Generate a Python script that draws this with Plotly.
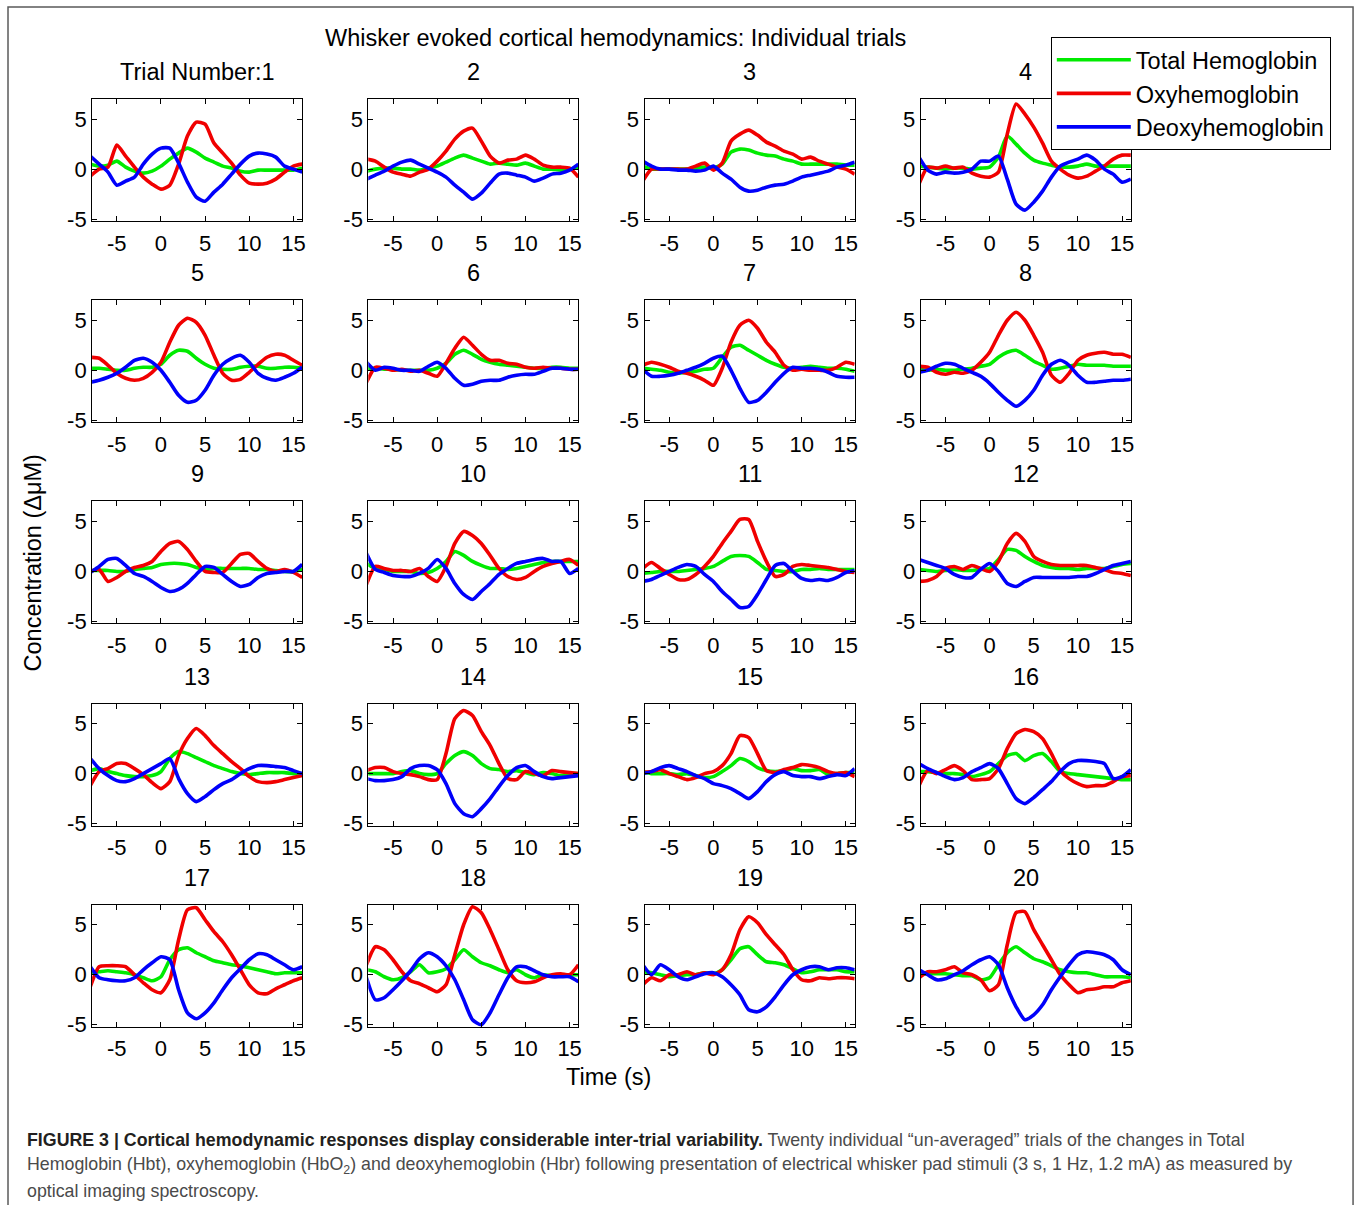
import plotly.graph_objects as go

# ---------------- data ----------------
TIME_S = list(range(-8, 17))  # seconds relative to stimulus onset
TRIAL_TITLES = ["Trial Number:1"] + [str(i) for i in range(2, 21)]
X_TICKS = [-5, 0, 5, 10, 15]
X_TICK_TEXT = ["-5", "0", "5", "10", "15"]
Y_TICKS = [-5, 0, 5]
Y_TICK_TEXT = ["-5", "0", "5"]

# Total hemoglobin (Hbt), one list per trial
HBT = [
    [0.5, 0.3, 0.4, 0.8, 0.2, -0.2, -0.4, -0.2, 0.3, 1.0, 1.6, 2.1, 1.7, 1.1, 0.7, 0.3, 0.1, -0.2, -0.3, -0.1, -0.1, -0.1, -0.1, -0.1, 0.1],
    [-0.2, 0.0, 0.1, 0.1, 0.0, 0.0, -0.1, 0.1, 0.3, 0.7, 1.1, 1.4, 1.1, 0.8, 0.5, 0.6, 0.5, 0.4, 0.6, 0.3, 0.0, 0.0, -0.1, 0.0, 0.2],
    [0.3, 0.0, 0.0, 0.0, 0.0, 0.0, 0.1, 0.2, 0.1, 0.5, 1.7, 2.0, 1.9, 1.6, 1.4, 1.3, 1.0, 0.8, 0.5, 0.5, 0.5, 0.5, 0.5, 0.4, 0.4],
    [0.3, 0.2, 0.1, 0.0, 0.1, 0.1, 0.0, 0.1, 0.2, 1.2, 3.3, 2.5, 1.6, 0.9, 0.6, 0.4, 0.2, 0.2, 0.3, 0.5, 0.3, 0.3, 0.3, 0.3, 0.3],
    [0.2, 0.2, 0.1, 0.0, 0.0, 0.2, 0.3, 0.3, 0.6, 1.5, 2.0, 1.9, 1.2, 0.6, 0.2, 0.1, 0.1, 0.3, 0.4, 0.4, 0.2, 0.2, 0.3, 0.3, 0.2],
    [0.2, 0.2, 0.1, 0.1, 0.0, 0.0, 0.0, 0.0, 0.2, 0.7, 1.6, 2.0, 1.6, 1.1, 0.8, 0.6, 0.5, 0.4, 0.3, 0.2, 0.2, 0.3, 0.3, 0.2, 0.2],
    [0.2, 0.1, 0.0, -0.2, -0.3, -0.2, -0.1, 0.1, 0.2, 1.3, 2.3, 2.5, 2.0, 1.5, 1.0, 0.6, 0.3, 0.2, 0.3, 0.4, 0.3, 0.2, 0.2, 0.1, -0.1],
    [0.1, 0.0, 0.1, 0.0, 0.0, 0.1, 0.2, 0.4, 0.6, 1.3, 1.8, 2.0, 1.5, 0.9, 0.5, 0.1, 0.2, 0.4, 0.6, 0.5, 0.5, 0.5, 0.4, 0.4, 0.4],
    [0.1, 0.1, 0.1, 0.0, 0.0, 0.2, 0.3, 0.4, 0.7, 0.8, 0.8, 0.7, 0.4, 0.2, 0.3, 0.3, 0.3, 0.3, 0.3, 0.2, 0.2, 0.1, 0.0, 0.0, 0.2],
    [0.8, 0.3, 0.2, 0.0, 0.0, 0.0, -0.2, -0.1, 0.3, 1.0, 2.0, 1.6, 1.0, 0.6, 0.3, 0.3, 0.2, 0.3, 0.5, 0.7, 0.9, 1.0, 1.0, 1.0, 1.0],
    [-0.2, -0.1, 0.0, 0.0, 0.0, 0.1, 0.2, 0.3, 0.5, 1.0, 1.5, 1.6, 1.5, 0.9, 0.2, 0.1, 0.0, 0.0, 0.2, 0.2, 0.3, 0.2, 0.2, 0.2, 0.2],
    [0.2, 0.1, 0.0, 0.1, 0.2, 0.1, 0.1, 0.2, 0.3, 1.2, 2.2, 2.1, 1.5, 1.0, 0.6, 0.4, 0.3, 0.3, 0.2, 0.3, 0.3, 0.3, 0.5, 0.7, 0.8],
    [0.3, 0.5, 0.2, 0.0, -0.2, -0.3, -0.3, -0.2, 0.2, 1.5, 2.2, 2.0, 1.6, 1.2, 0.8, 0.5, 0.2, 0.0, -0.1, 0.0, 0.1, 0.1, 0.1, 0.0, 0.0],
    [0.0, 0.0, 0.0, 0.0, 0.2, 0.3, 0.0, -0.1, 0.0, 1.0, 1.8, 2.2, 1.8, 1.0, 0.5, 0.4, 0.2, 0.3, 0.1, -0.1, 0.1, 0.0, -0.2, 0.0, 0.0],
    [0.2, 0.0, 0.0, 0.0, -0.1, 0.0, -0.2, -0.4, -0.3, 0.2, 0.8, 1.5, 1.2, 0.6, 0.3, 0.2, 0.3, 0.5, 0.3, 0.3, 0.4, -0.1, 0.0, 0.1, 0.1],
    [0.2, 0.2, 0.1, 0.0, 0.0, -0.1, -0.3, -0.1, 0.2, 1.0, 1.8, 2.0, 1.3, 1.8, 2.0, 1.2, 0.2, 0.0, -0.1, -0.2, -0.3, -0.4, -0.5, -0.6, -0.6],
    [0.2, 0.3, 0.4, 0.3, 0.2, 0.0, -0.3, -0.6, -0.2, 1.5, 2.5, 2.7, 2.2, 1.8, 1.4, 1.2, 1.0, 0.9, 0.7, 0.5, 0.3, 0.1, 0.2, 0.2, 0.2],
    [0.5, 0.3, -0.2, -0.5, -0.3, 0.3, 1.0, 0.2, 0.3, 0.6, 1.5, 2.5, 1.8, 1.2, 0.9, 0.5, 0.2, 0.5, 0.0, -0.3, 0.0, -0.1, 0.0, 0.0, 0.0],
    [0.3, 0.2, 0.0, -0.2, -0.1, 0.0, 0.0, 0.2, 0.1, 0.5, 1.5, 2.6, 2.8, 2.0, 1.3, 1.2, 1.0, 0.6, 0.2, 0.3, 0.5, 0.5, 0.5, 0.3, 0.3],
    [0.0, 0.1, 0.1, 0.1, 0.0, -0.1, -0.1, -0.5, -0.3, 1.0, 2.2, 2.8, 2.2, 1.6, 1.3, 0.9, 0.5, 0.3, 0.2, 0.2, 0.0, -0.2, -0.2, -0.2, -0.3],
]

# Oxyhemoglobin (HbO2), one list per trial
HBO = [
    [-0.7, 0.0, 0.2, 2.4, 1.3, 0.2, -0.8, -1.5, -2.0, -1.6, 0.5, 3.3, 4.7, 4.5, 2.6, 1.6, 0.6, -0.6, -1.4, -1.5, -1.4, -1.0, -0.3, 0.3, 0.5],
    [1.0, 0.8, 0.2, -0.3, -0.5, -0.7, -0.3, 0.0, 0.8, 1.8, 3.0, 3.8, 4.1, 2.8, 1.3, 0.6, 0.9, 1.0, 1.4, 1.0, 0.4, 0.2, 0.2, 0.1, -0.8],
    [-1.2, 0.0, 0.0, 0.0, 0.0, 0.0, 0.3, 0.6, -0.1, 0.6, 2.8, 3.5, 3.9, 3.4, 2.7, 2.3, 1.8, 1.5, 1.0, 1.2, 0.8, 0.5, 0.2, 0.0, -0.5],
    [-1.5, 0.2, 0.1, 0.3, 0.1, 0.2, -0.4, -0.7, -0.8, -0.3, 3.5, 6.5, 5.5, 4.2, 2.6, 0.8, 0.0, -0.6, -0.9, -0.7, -0.2, 0.3, 1.0, 1.4, 1.4],
    [1.3, 1.2, 0.5, -0.3, -0.8, -1.0, -0.8, -0.2, 0.8, 2.8, 4.5, 5.2, 4.8, 3.5, 1.5, -0.3, -1.0, -0.9, -0.2, 0.6, 1.3, 1.6, 1.5, 1.0, 0.5],
    [-1.2, 0.3, 0.2, 0.0, 0.1, -0.1, 0.0, -0.3, -0.6, 0.7, 2.2, 3.3, 2.5, 1.6, 1.0, 1.0, 0.7, 0.6, 0.3, 0.2, 0.3, 0.2, 0.2, 0.1, 0.1],
    [0.5, 0.8, 0.6, 0.3, -0.1, -0.3, -0.6, -1.0, -1.5, 0.2, 2.8, 4.5, 5.0, 4.2, 2.8, 1.8, 0.5, 0.0, 0.1, 0.0, 0.0, 0.0, 0.3, 0.8, 0.6],
    [0.4, 0.3, -0.2, -0.4, -0.2, -0.3, 0.0, 0.8, 1.8, 3.5, 5.0, 5.8, 5.0, 3.5, 1.8, -0.5, -1.2, -0.3, 1.0, 1.5, 1.7, 1.8, 1.6, 1.6, 1.3],
    [0.0, 0.2, -1.0, -0.6, 0.0, 0.4, 0.6, 1.0, 2.0, 2.8, 3.0, 2.2, 1.0, 0.0, -0.1, -0.1, 0.8, 1.7, 1.8, 1.0, 0.3, 0.0, 0.2, -0.1, -0.6],
    [-1.3, 0.5, 0.3, 0.1, 0.1, 0.0, 0.3, -0.5, -1.0, 0.5, 2.8, 4.0, 3.6, 2.8, 1.6, 0.3, -0.5, -0.8, -0.6, 0.0, 0.5, 0.8, 1.0, 1.2, 0.6],
    [0.3, 0.9, 0.3, -0.3, -0.8, -0.8, -0.3, 0.5, 1.5, 2.8, 4.0, 5.2, 5.2, 3.0, 1.0, -0.5, -0.3, 0.5, 0.7, 0.6, 0.5, 0.4, 0.2, 0.0, -0.1],
    [-1.0, -0.9, -0.5, 0.3, 0.5, 0.2, 0.6, 0.3, 0.0, 1.0, 2.8, 3.8, 3.0, 1.5, 1.0, 0.7, 0.6, 0.6, 0.6, 0.6, 0.4, 0.2, -0.1, -0.2, -0.4],
    [-1.2, 0.2, 0.5, 1.0, 1.0, 0.5, -0.1, -0.9, -1.5, -0.8, 1.8, 3.5, 4.5, 3.8, 2.8, 2.0, 1.2, 0.5, -0.3, -0.8, -0.9, -0.8, -0.6, -0.4, -0.2],
    [0.3, 0.6, 0.6, 0.2, 0.0, -0.1, -0.3, -0.6, -0.6, 2.0, 5.5, 6.3, 5.8, 4.2, 2.8, 1.0, -0.5, -0.6, 0.2, 0.0, -0.2, 0.3, 0.2, 0.1, 0.0],
    [0.1, 0.2, 0.4, 0.0, -0.3, -0.6, -0.4, 0.0, 0.2, 0.8, 2.0, 3.8, 3.6, 2.0, 0.3, 0.1, 0.4, 0.6, 0.9, 0.8, 0.6, 0.2, 0.0, 0.1, -0.3],
    [-1.2, 0.3, 0.0, 0.4, 0.8, 0.3, -0.6, -0.6, -0.5, 0.5, 2.5, 4.0, 4.4, 4.2, 3.5, 2.0, 0.3, -0.5, -1.0, -1.3, -1.2, -1.2, -0.8, -0.3, -0.2],
    [-1.2, 0.8, 0.9, 0.9, 0.8, 0.0, -0.8, -1.5, -1.8, -0.5, 3.5, 6.5, 6.7, 5.5, 4.3, 3.3, 2.0, 0.5, -1.0, -1.8, -1.9, -1.4, -1.0, -0.6, -0.3],
    [1.0, 2.8, 2.5, 1.5, 0.3, -0.6, -0.9, -1.3, -1.7, -1.0, 2.0, 5.0, 6.8, 6.2, 4.5, 2.5, 0.5, -0.6, -0.8, -0.7, -0.3, 0.0, 0.1, 0.0, 1.0],
    [-1.0, -0.3, -0.6, 0.0, 0.0, 0.3, 0.0, 0.2, 0.0, 0.5, 2.0, 4.5, 5.8, 5.2, 4.0, 3.0, 2.0, 0.5, -0.5, -0.6, -0.3, -0.4, -0.3, -0.3, -0.4],
    [-0.3, 0.3, 0.3, 0.5, 0.8, 0.2, 0.0, -0.5, -1.6, -1.0, 3.0, 6.2, 6.3, 4.5, 3.0, 1.5, 0.0, -1.0, -1.8, -1.5, -1.4, -1.2, -1.2, -0.8, -0.6],
]

# Deoxyhemoglobin (Hbr), one list per trial
HBR = [
    [1.3, 0.5, -0.3, -1.6, -1.2, -0.8, 0.5, 1.5, 2.1, 2.1, 0.6, -1.3, -2.8, -3.2, -2.3, -1.5, -0.5, 0.5, 1.3, 1.6, 1.5, 1.2, 0.3, 0.0, -0.3],
    [-1.0, -0.6, -0.2, 0.3, 0.7, 0.9, 0.5, 0.1, -0.3, -0.8, -1.6, -2.3, -3.0, -2.4, -1.4, -0.5, -0.4, -0.6, -0.8, -1.2, -0.9, -0.5, -0.4, -0.1, 0.5],
    [0.8, 0.3, 0.0, 0.0, -0.1, -0.1, -0.2, -0.1, 0.3, -0.4, -1.0, -1.8, -2.2, -2.1, -1.8, -1.6, -1.5, -1.2, -0.8, -0.6, -0.4, -0.2, 0.2, 0.4, 0.7],
    [1.2, -0.1, -0.5, -0.3, -0.4, -0.3, 0.0, 0.8, 0.8, 1.3, -1.0, -3.5, -4.1, -3.3, -2.2, -0.8, 0.3, 0.7, 1.0, 1.4, 0.9, 0.0, -0.5, -1.3, -1.0],
    [-1.2, -1.0, -0.7, -0.3, 0.3, 1.0, 1.2, 0.8, 0.0, -1.2, -2.5, -3.2, -3.0, -2.0, -0.5, 0.6, 1.2, 1.5, 0.8, -0.3, -0.8, -1.0, -0.7, -0.3, 0.3],
    [0.8, 0.0, 0.3, 0.2, 0.0, 0.0, -0.1, 0.4, 0.8, 0.2, -0.8, -1.5, -1.4, -1.1, -1.0, -1.0, -0.7, -0.5, -0.4, -0.4, -0.1, 0.2, 0.2, 0.1, 0.1],
    [0.1, -0.6, -0.6, -0.5, -0.3, 0.0, 0.3, 0.7, 1.2, 1.4, 0.0, -1.8, -3.2, -3.0, -2.2, -1.2, -0.3, 0.3, 0.2, 0.2, 0.1, -0.2, -0.6, -0.7, -0.7],
    [-0.2, 0.0, 0.4, 0.7, 0.6, 0.2, -0.2, -0.6, -1.3, -2.2, -3.0, -3.6, -3.0, -2.0, -0.5, 0.6, 1.0, 0.5, -0.5, -1.2, -1.2, -1.1, -1.0, -1.0, -0.9],
    [-0.1, 0.5, 1.2, 1.3, 0.6, -0.2, -0.5, -1.0, -1.6, -2.0, -1.8, -1.2, -0.3, 0.5, 0.4, -0.3, -1.0, -1.5, -1.3, -0.6, -0.2, -0.1, 0.0, 0.0, 0.7],
    [1.8, 0.2, -0.1, -0.4, -0.5, -0.5, -0.2, 0.3, 1.2, 0.3, -1.2, -2.3, -2.8, -2.0, -1.2, -0.3, 0.3, 0.8, 1.0, 1.2, 1.3, 1.0, 1.0, -0.2, 0.3],
    [-1.0, -0.8, -0.4, 0.0, 0.4, 0.7, 0.5, -0.3, -1.0, -2.0, -2.8, -3.6, -3.5, -2.3, -0.8, 0.6, 0.8, 0.0, -0.7, -0.9, -0.8, -0.9, -0.6, -0.1, 0.1],
    [1.2, 0.9, 0.6, 0.3, -0.3, -0.6, -0.6, 0.2, 0.8, 0.0, -1.2, -1.5, -1.0, -0.6, -0.6, -0.6, -0.6, -0.6, -0.5, -0.5, -0.2, 0.2, 0.6, 0.8, 1.0],
    [1.5, 0.5, -0.2, -0.7, -0.8, -0.5, 0.0, 0.5, 1.0, 1.5, -0.5, -2.0, -2.8, -2.3, -1.6, -1.0, -0.6, 0.0, 0.5, 0.8, 0.8, 0.7, 0.6, 0.3, 0.0],
    [-0.5, -0.7, -0.7, -0.6, -0.3, 0.5, 0.8, 0.8, 0.4, -1.0, -3.0, -4.0, -4.3, -3.5, -2.5, -1.3, -0.2, 0.6, 0.8, 0.2, -0.3, -0.5, -0.4, -0.3, -0.2],
    [0.0, 0.2, 0.6, 0.8, 0.5, 0.2, -0.2, -0.5, -1.0, -1.2, -1.5, -2.0, -2.5, -1.8, -0.8, -0.1, 0.2, -0.2, -0.3, -0.3, -0.5, -0.3, -0.1, -0.2, 0.5],
    [1.0, 0.5, 0.1, -0.3, -0.6, -0.4, 0.2, 0.6, 1.0, 0.5, -1.0, -2.5, -3.0, -2.4, -1.6, -0.8, 0.2, 1.0, 1.3, 1.3, 1.2, 1.0, -0.5, -0.3, 0.4],
    [0.8, -0.3, -0.5, -0.6, -0.6, -0.3, 0.5, 1.2, 1.8, 1.5, -1.5, -3.8, -4.4, -3.8, -2.8, -1.5, -0.3, 0.6, 1.5, 2.1, 2.0, 1.5, 1.0, 0.5, 0.8],
    [-0.3, -2.5, -2.3, -1.5, -0.6, 0.4, 1.6, 2.2, 1.8, 0.9, -0.5, -2.5, -4.5, -5.0, -3.8, -2.0, -0.3, 0.8, 0.8, 0.4, 0.0, -0.2, -0.2, -0.2, -0.7],
    [1.0, 0.0, 1.0, 0.5, -0.2, -0.5, -0.2, 0.1, 0.2, -0.2, -1.0, -2.0, -3.5, -3.7, -3.2, -2.2, -1.0, 0.0, 0.5, 0.8, 0.8, 0.5, 0.7, 0.7, 0.5],
    [0.5, 0.0, -0.5, -0.4, 0.0, 0.4, 1.0, 1.5, 1.8, 1.0, -1.3, -3.2, -4.5, -4.0, -3.0, -1.5, -0.2, 1.0, 2.0, 2.3, 2.2, 2.0, 1.5, 0.5, 0.0],
]

SERIES = [
    ("Total Hemoglobin", HBT, "rgb(0,235,0)"),
    ("Oxyhemoglobin", HBO, "rgb(240,0,0)"),
    ("Deoxyhemoglobin", HBR, "rgb(0,0,250)"),
]

# ---------------- layout geometry (pixels in the reference) ----------------
W, H = 1354, 1205
SX, SY = 1.003, 1.01   # small empirical correction for the rendered page
COL_LEFT = [92, 368, 644, 920]
ROW_TOP = [99, 300, 501, 703, 904]
PW, PH = 210, 122
FONT = "Liberation Sans, Arial, Helvetica, sans-serif"


def px(x):
    return x * SX / W


def py(y):
    return 1 - y * SY / H


fig = go.Figure()
layout_axes = {}
annotations = []

for i in range(20):
    r, c = divmod(i, 4)
    n = i + 1
    xa = "x" if n == 1 else f"x{n}"
    ya = "y" if n == 1 else f"y{n}"
    for name, data, color in SERIES:
        fig.add_trace(go.Scatter(
            x=TIME_S, y=data[i], mode="lines", name=name,
            line=dict(color=color, width=3.6, shape="spline", smoothing=0.6),
            xaxis=xa, yaxis=ya, showlegend=(i == 0), legendgroup=name,
            hoverinfo="skip",
        ))
    left, top = COL_LEFT[c], ROW_TOP[r]
    axis_common = dict(
        showline=True, linecolor="black", linewidth=1, mirror="allticks",
        ticks="inside", ticklen=5, tickcolor="black", showgrid=False,
        zeroline=False, tickfont=dict(family=FONT, size=22, color="black"),
        fixedrange=True,
    )
    layout_axes["xaxis" if n == 1 else f"xaxis{n}"] = dict(
        axis_common, domain=[px(left), px(left + PW)], range=[-7.8, 16],
        tickvals=X_TICKS, ticktext=X_TICK_TEXT, anchor=ya, ticklabelstandoff=2,
    )
    layout_axes["yaxis" if n == 1 else f"yaxis{n}"] = dict(
        axis_common, domain=[py(top + PH), py(top)], range=[-5.2, 7],
        tickvals=Y_TICKS, ticktext=Y_TICK_TEXT, anchor=xa,
    )
    annotations.append(dict(
        text=TRIAL_TITLES[i], xref="paper", yref="paper",
        x=px(left + PW / 2), y=py(top - 12), xanchor="center", yanchor="bottom",
        showarrow=False, font=dict(family=FONT, size=23.5, color="black"),
    ))

annotations += [
    dict(text="Whisker evoked cortical hemodynamics: Individual trials",
         xref="paper", yref="paper", x=px(615), y=py(38), xanchor="center",
         yanchor="middle", showarrow=False,
         font=dict(family=FONT, size=23.5, color="black")),
    dict(text="Concentration (ΔμM)", xref="paper", yref="paper", x=px(33),
         y=py(563), xanchor="center", yanchor="middle", textangle=-90,
         showarrow=False, font=dict(family=FONT, size=23.5, color="black")),
    dict(text="Time (s)", xref="paper", yref="paper", x=px(608), y=py(1076),
         xanchor="center", yanchor="middle", showarrow=False,
         font=dict(family=FONT, size=23.5, color="black")),
]

CAPTION = [
    "<span style='color:#231f20'><b>FIGURE 3 | Cortical hemodynamic responses display considerable inter-trial variability.</b></span> Twenty individual \u201cun-averaged\u201d trials of the changes in Total",
    "Hemoglobin (Hbt), oxyhemoglobin (HbO<sub>2</sub>) and deoxyhemoglobin (Hbr) following presentation of electrical whisker pad stimuli (3 s, 1 Hz, 1.2 mA) as measured by",
    "optical imaging spectroscopy.",
]
for k, line in enumerate(CAPTION):
    annotations.append(dict(
        text=line, xref="paper", yref="paper", x=px(25), y=py(1139 + 25.5 * k),
        xanchor="left", yanchor="middle", showarrow=False, align="left",
        font=dict(family=FONT, size=17.8, color="#4a4a4a"),
    ))

fig.update_layout(
    width=W, height=H, margin=dict(l=0, r=0, t=0, b=0),
    paper_bgcolor="white", plot_bgcolor="white",
    showlegend=True,
    legend=dict(
        x=px(1050), y=py(37), xanchor="left", yanchor="top",
        bgcolor="white", bordercolor="black", borderwidth=1,
        font=dict(family=FONT, size=23.5, color="black"),
        itemwidth=74, tracegroupgap=0,
    ),
    annotations=annotations,
    shapes=[dict(type="rect", xref="paper", yref="paper",
                 x0=px(8), x1=px(1352), y0=-0.02, y1=py(7),
                 line=dict(color="#5a5a5a", width=1.5), layer="below")],
    **layout_axes,
)

fig.write_html("out.html")
